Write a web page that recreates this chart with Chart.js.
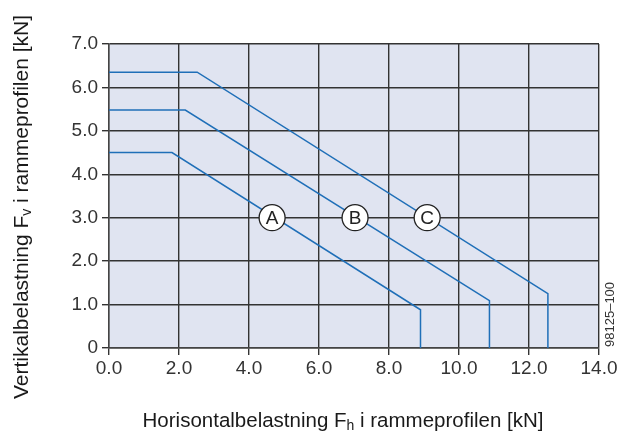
<!DOCTYPE html>
<html>
<head>
<meta charset="utf-8">
<script src="https://cdn.jsdelivr.net/npm/chart.js@4/dist/chart.umd.min.js"></script>
<style>
html,body{margin:0;padding:0;background:#fff;}
#wrap{width:622px;height:434px;position:relative;}
</style>
</head>
<body>
<div id="wrap"><canvas id="c" width="622" height="434"></canvas></div>
<script>
// Data
const xTicks = [0, 2, 4, 6, 8, 10, 12, 14];
const yTicks = [0, 1, 2, 3, 4, 5, 6, 7];
const curveA_x = [0, 1.8, 8.9, 8.9];
const curveA_y = [4.5, 4.5, 0.88, 0];
const curveB_x = [0, 2.18, 10.87, 10.87];
const curveB_y = [5.48, 5.48, 1.09, 0];
const curveC_x = [0, 2.52, 12.54, 12.54];
const curveC_y = [6.35, 6.35, 1.25, 0];
const curveLabels = ['A', 'B', 'C'];
const labelX = [4.66, 7.03, 9.09];
const labelY = [3.0, 3.0, 3.0];
const xTitleMain = 'Horisontalbelastning F';
const xTitleSub = 'h';
const xTitleRest = ' i rammeprofilen [kN]';
const yTitleMain = 'Vertikalbelastning F';
const yTitleSub = 'v';
const yTitleRest = ' i rammeprofilen [kN]';
const docCode = '98125–100';

const FONT = '"Liberation Sans", Arial, sans-serif';
const LINE = '#1f6fb8';
const GRID = '#333333';

function pts(xs, ys){ return xs.map((x,i)=>({x:x, y:ys[i]})); }

const bgPlugin = {
  id:'bg',
  beforeDraw(chart){
    const {ctx, chartArea:a} = chart;
    ctx.save();
    ctx.fillStyle = '#e0e4f1';
    ctx.fillRect(a.left, a.top, a.right-a.left, a.bottom-a.top);
    ctx.restore();
  }
};

function drawSubTitle(ctx, main, sub, rest, size){
  ctx.font = size + 'px ' + FONT;
  const w1 = ctx.measureText(main).width;
  const w3 = ctx.measureText(rest).width;
  const subSize = Math.round(size*0.68);
  ctx.font = subSize + 'px ' + FONT;
  const w2 = ctx.measureText(sub).width;
  const total = w1+w2+w3;
  let x = -total/2;
  ctx.textBaseline = 'alphabetic';
  ctx.textAlign = 'left';
  ctx.font = size + 'px ' + FONT;
  ctx.fillText(main, x, 0); x += w1;
  ctx.font = subSize + 'px ' + FONT;
  ctx.fillText(sub, x, size*0.15); x += w2;
  ctx.font = size + 'px ' + FONT;
  ctx.fillText(rest, x, 0);
}

const overlayPlugin = {
  id:'overlay',
  afterDraw(chart){
    const {ctx, scales} = chart;
    const xs = scales.x, ys = scales.y;
    ctx.save();
    // curve labels
    for(let i=0;i<curveLabels.length;i++){
      const px = xs.getPixelForValue(labelX[i]);
      const py = ys.getPixelForValue(labelY[i]);
      ctx.beginPath();
      ctx.arc(px, py, 13, 0, Math.PI*2);
      ctx.fillStyle = '#fff';
      ctx.fill();
      ctx.lineWidth = 1.3;
      ctx.strokeStyle = '#222';
      ctx.stroke();
      ctx.fillStyle = '#222';
      ctx.font = '19px ' + FONT;
      ctx.textAlign = 'center';
      ctx.textBaseline = 'middle';
      ctx.fillText(curveLabels[i], px, py+1);
    }
    ctx.fillStyle = '#1a1a1a';
    // x title
    ctx.save();
    ctx.translate(343, 427);
    drawSubTitle(ctx, xTitleMain, xTitleSub, xTitleRest, 20.5);
    ctx.restore();
    // y title
    ctx.save();
    ctx.translate(28, 207);
    ctx.rotate(-Math.PI/2);
    drawSubTitle(ctx, yTitleMain, yTitleSub, yTitleRest, 21);
    ctx.restore();
    // doc code
    ctx.save();
    ctx.translate(614, 347);
    ctx.rotate(-Math.PI/2);
    ctx.font = '13px ' + FONT;
    ctx.fillStyle = '#333';
    ctx.textAlign = 'left';
    ctx.textBaseline = 'alphabetic';
    ctx.fillText(docCode, 0, 0);
    ctx.restore();
    ctx.restore();
  }
};

const ds = (xs, ys) => ({
  data: pts(xs, ys),
  showLine: true,
  borderColor: LINE,
  borderWidth: 1.5,
  pointRadius: 0,
  fill: false,
  tension: 0
});

new Chart(document.getElementById('c'), {
  type: 'scatter',
  data: { datasets: [ds(curveA_x, curveA_y), ds(curveB_x, curveB_y), ds(curveC_x, curveC_y)] },
  options: {
    responsive: false,
    animation: false,
    devicePixelRatio: 1,
    layout: { padding: { left: 0, top: 44, right: 23, bottom: 0 } },
    plugins: { legend: {display:false}, tooltip: {enabled:false} },
    scales: {
      x: {
        type: 'linear', min: 0, max: 14,
        afterBuildTicks(s){ s.ticks = xTicks.map(v=>({value:v})); },
        afterFit(s){ s.height = 86; },
        ticks: { padding: 2, color:'#333', font:{family:FONT, size:19},
          callback: v => v.toFixed(1), maxRotation:0, autoSkip:false },
        grid: { color: GRID, lineWidth: 1.4, tickLength: 7, tickColor: GRID },
        border: { color: '#444', width: 1.4 }
      },
      y: {
        type: 'linear', min: 0, max: 7,
        afterBuildTicks(s){ s.ticks = yTicks.map(v=>({value:v})); },
        afterFit(s){ s.width = 109; },
        ticks: { padding: 4, color:'#333', font:{family:FONT, size:19},
          callback: v => v === 0 ? '0' : v.toFixed(1), autoSkip:false },
        grid: { color: GRID, lineWidth: 1.4, tickLength: 7, tickColor: GRID },
        border: { color: '#444', width: 1.4 }
      }
    }
  },
  plugins: [bgPlugin, overlayPlugin]
});
</script>
</body>
</html>
